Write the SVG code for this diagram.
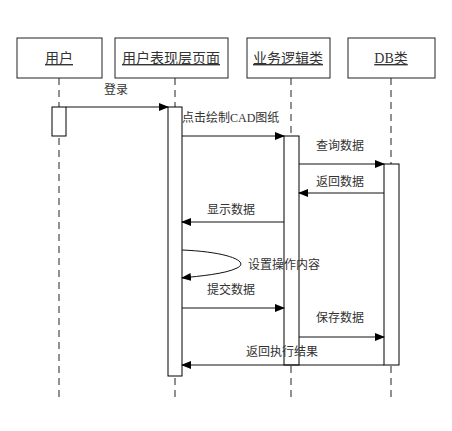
<svg xmlns="http://www.w3.org/2000/svg" width="452" height="431" viewBox="0 0 452 431">
<defs>
<marker id="arr" markerWidth="10" markerHeight="8" refX="9" refY="4" orient="auto" markerUnits="userSpaceOnUse">
<path d="M0,0 L10,4 L0,8 Z" fill="#000"/>
</marker>
<style>
.box{fill:#fff;stroke:#222;stroke-width:1}
.life{stroke:#222;stroke-width:1;stroke-dasharray:7,5;fill:none}
.act{fill:#fff;stroke:#000;stroke-width:1}
.msg{stroke:#111;stroke-width:1;fill:none;marker-end:url(#arr)}
.t{font-family:"Liberation Serif","Noto Sans CJK SC",serif;font-size:12px;fill:#333}
.h{font-family:"Liberation Serif","Noto Sans CJK SC",serif;font-size:14px;fill:#333;text-anchor:middle;text-decoration:underline}
</style>
</defs>
<rect width="452" height="431" fill="#fff"/>
<g id="lifelines">
<line class="life" x1="59" y1="78" x2="59" y2="400"/>
<line class="life" x1="175" y1="78" x2="175" y2="400"/>
<line class="life" x1="291" y1="78" x2="291" y2="400"/>
<line class="life" x1="391" y1="78" x2="391" y2="400"/>
</g>
<g id="user"><rect class="box" x="17" y="38" width="85" height="40"/><text class="h" x="59" y="63">用户</text></g>
<g id="page"><rect class="box" x="115" y="38" width="113" height="40"/><text class="h" x="171" y="63">用户表现层页面</text></g>
<g id="biz"><rect class="box" x="247" y="38" width="83" height="40"/><text class="h" x="288" y="63">业务逻辑类</text></g>
<g id="db"><rect class="box" x="348" y="38" width="87" height="40"/><text class="h" x="391" y="63">DB类</text></g>
<g id="activations">
<rect class="act" x="52" y="107" width="14" height="29"/>
<rect class="act" x="168" y="107" width="14" height="269"/>
<rect class="act" x="284" y="136" width="15" height="229"/>
<rect class="act" x="384" y="164" width="15" height="201"/>
</g>
<g id="connectors">
<line class="msg" x1="66" y1="107" x2="168" y2="107"/>
<line class="msg" x1="182" y1="136" x2="284" y2="136"/>
<line class="msg" x1="299" y1="164" x2="384" y2="164"/>
<line class="msg" x1="384" y1="193" x2="299" y2="193"/>
<line class="msg" x1="284" y1="222" x2="182" y2="222"/>
<path class="msg" d="M182,250 C230,252 250,262 237,268 C225,274 200,276 182,278"/>
<line class="msg" x1="182" y1="308" x2="284" y2="308"/>
<line class="msg" x1="299" y1="337" x2="384" y2="337"/>
<line class="msg" x1="384" y1="365" x2="182" y2="365"/>
</g>
<g id="labels">
<text class="t" x="104" y="94">登录</text>
<text class="t" x="182" y="122">点击绘制CAD图纸</text>
<text class="t" x="316" y="150">查询数据</text>
<text class="t" x="316" y="186">返回数据</text>
<text class="t" x="207" y="214">显示数据</text>
<text class="t" x="248" y="269">设置操作内容</text>
<text class="t" x="207" y="294">提交数据</text>
<text class="t" x="316" y="322">保存数据</text>
<text class="t" x="246" y="356">返回执行结果</text>
</g>
</svg>
